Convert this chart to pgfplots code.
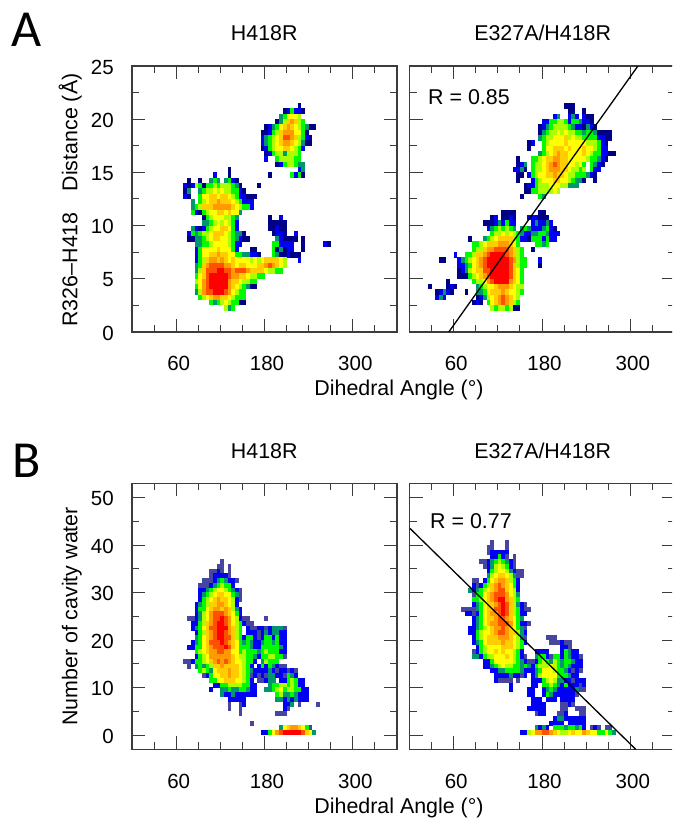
\documentclass[border=0pt]{standalone}
\usepackage{fontspec}
\setmainfont{Liberation Sans}
\newfontfamily\bigletter{Carlito}
\usepackage{pgfplots}
\pgfplotsset{compat=1.18}
\makeatletter
\newcount\cx
\def\C{}
\def\Y#1{\def\cy{#1}}
\def\R#1#2{\cx=#1\relax\advance\cx by 2\relax
 \@for\v:=#2\do{\xdef\C{\C(\the\cx.5,\cy)[\v]}\advance\cx by 5\relax}}
\makeatother
\pgfdeclareplotmark{cellA}{\pgfpathrectangle{\pgfpoint{-1.9pt}{-2.72pt}}{\pgfpoint{3.8pt}{5.44pt}}\pgfusepathqfill}
\pgfdeclareplotmark{cellB}{\pgfpathrectangle{\pgfpoint{-1.9pt}{-2.43pt}}{\pgfpoint{3.8pt}{4.86pt}}\pgfusepathqfill}
% H418R, distance
\Y{21.25}\R{225}{0}
\Y{20.75}\R{205}{0,1,3,1,1,0}
\Y{20.25}\R{200}{2,3,5,5,5,4}
\Y{19.75}\R{195}{0,2,4,6,7,6,4,3}
\Y{19.25}\R{180}{0,1,2,3,5,6,7,6,5,4,3,2,0,0}
\Y{18.75}\R{175}{0,0,1,3,4,6,7,7,7,5,5,3,0}
\Y{18.25}\R{175}{1,2,3,4,5,6,8,8,7,6,4,3,1,0}
\Y{17.75}\R{175}{1,2,3,4,5,6,7,7,6,5,4,2,0,0}
\Y{17.25}\R{175}{0,1,3,4,5,5,6,6,5,4,3,1}
\Y{16.75}\R{180}{0,1,3,4,4,2,4,4,4,3}
\Y{16.25}\R{180}{1}\R{195}{3,4,4,4,4,3,3}
\Y{15.75}\R{195}{0,1,3,4,4,3,2,2}
\Y{15.25}\R{130}{0}\R{225}{1,2}
\Y{14.75}\R{110}{1}\R{130}{0}\R{185}{0}\R{215}{3,1,3,0}
\Y{14.25}\R{75}{0}\R{90}{0}\R{105}{2,3,2}\R{125}{2,3,1,0}
\Y{13.75}\R{70}{1,0,1,4,3,0,3,3,4,3,4,4,4,3,2,0}\R{170}{0}
\Y{13.25}\R{70}{0,2}\R{90}{2,3,4,4,5,4,5,4,4,3,3,1,0}
\Y{12.75}\R{70}{1,0}\R{90}{3,5,5,6,6,5,6,6,5,4,3,1,1,0,0,0}
\Y{12.25}\R{80}{2}\R{90}{3,4,5,6,6,7,6,6,6,5,4,3,1,1,1}
\Y{11.75}\R{80}{2,3,4,6,6,6,7,7,7,7,7,6,5,4,3,3,1}
\Y{11.25}\R{80}{3,1,0,3,4,5,5,6,6,5,6,5,5,2}
\Y{10.75}\R{95}{0,3,4,5,5,5,4,4,3,2}\R{185}{0}\R{200}{1}
\Y{10.25}\R{95}{2,2,3,4,5,4,5,4,3,1}\R{185}{0,0,0,0,0}
\Y{9.75}\R{80}{2,1,0,1,3,4,5,5,6,6,5,3,1}\R{185}{0,0,1,0,0}
\Y{9.25}\R{75}{1,3,2,3,4,4,5,6,6,6,5,4,3,2,2,0}\R{190}{0,1,1,0}\R{220}{1}
\Y{8.75}\R{75}{0,0,2,2,3,4,5,6,6,5,5,4,3,2,1,0,0}\R{195}{2,1,0,0,0,0}\R{230}{0}
\Y{8.25}\R{85}{2,2,3,3,4,5,5,5,5,4,3,1,1}\R{190}{3,3,1,1,1,1}\R{230}{0}\R{260}{1,0}
\Y{7.75}\R{85}{1,3,5,5,5,5,6,5,5,5,3,1}\R{160}{0,0}\R{190}{3,0,2,0,1,1}\R{230}{0}
\Y{7.25}\R{85}{1,3,5,5,6,6,7,6,6,5,5,3,3,2,2,1,1,0}\R{190}{3,2,0,0,1,0,0,0}
\Y{6.75}\R{85}{1,3,4,6,7,7,6,7,6,5,6,5,5,5,5,4,5,4,5,6,6,6,6,5,4}\R{225}{1}
\Y{6.25}\R{85}{2,3,6,7,8,8,8,8,7,7,6,5,6,6,5,5,5,6,6,7,8,7,6,5,4}
\Y{5.75}\R{85}{2,4,6,8,8,8,9,9,8,8,7,8,8,8,7,6,6,6,6,5,4,4,3,3}
\Y{5.25}\R{85}{3,5,6,8,9,9,9,9,9,8,7,7,6,6,5,4,4,3,3}
\Y{4.75}\R{85}{4,5,7,8,9,9,9,9,9,7,6,6,5,4,4,3,3}
\Y{4.25}\R{85}{3,5,7,8,9,9,9,9,9,7,6,5,4,3,2,0,0}
\Y{3.75}\R{85}{2,4,7,8,8,9,9,9,8,7,5,4,3,3}
\Y{3.25}\R{90}{3,4,5,6,7,7,6,6,5,4,3,3,3}
\Y{2.75}\R{105}{3,2,3,4,5,4,3,3,0,0}
\Y{2.25}\R{125}{4,2,3}
\let\cellsAL\C \def\C{}
% E327A/H418R, distance
\Y{21.25}\R{210}{0,0,0}
\Y{20.75}\R{215}{0,0}\R{235}{0}
\Y{20.25}\R{195}{1,2}\R{215}{1,2,1}\R{235}{1,0,0}
\Y{19.75}\R{180}{1,1,3,3,4,4,3,1,3,3,2,1,1,0}
\Y{19.25}\R{175}{0,1,2,3,4,4,4,4,3,2,1,1,0,2,1,0}
\Y{18.75}\R{175}{0,2,3,4,4,5,4,5,4,4,3,3,2,3,3,2,0,0,0,0}
\Y{18.25}\R{175}{2,3,4,4,5,5,5,6,4,5,4,4,3,3,3,3,1,1,0,0}
\Y{17.75}\R{160}{0,1}\R{180}{3,4,5,5,5,5,6,5,5,5,5,5,4,4,4,3,1,0}
\Y{17.25}\R{160}{0}\R{180}{3,5,5,6,6,6,5,6,5,5,5,6,5,5,4,3,1,1}
\Y{16.75}\R{175}{2,3,4,5,6,7,6,6,5,5,5,5,6,5,4,3,3,1,1,0,0}
\Y{16.25}\R{145}{0}\R{165}{3,3,4,5,6,6,7,7,6,6,5,5,5,5,5,4,3,3,2,1,0}
\Y{15.75}\R{145}{0,1,2}\R{165}{3,4,4,5,6,7,8,7,6,6,5,5,4,5,3}\R{245}{3,2,1,0}
\Y{15.25}\R{140}{1,1,2,0}\R{165}{3,4,4,5,6,7,7,7,6,6,5,4,4,3,4}\R{245}{3,1,1}
\Y{14.75}\R{145}{0,0}\R{160}{1,3,4,5,5,6,6,7,6,6,5,4,4,3,3,3,2,1,0}
\Y{14.25}\R{145}{0}\R{165}{1,3,4,5,5,5,6,6,5,5,4,3,2,2,0}\R{250}{0}
\Y{13.75}\R{155}{0,1,1,3,4,4,4,5,5,5,4,4,2,2,2}
\Y{13.25}\R{155}{0,0,3,3,4,4,4,4,5,4}
\Y{12.75}\R{150}{0}\R{175}{3,2}
\Y{11.25}\R{125}{0,0,0,0}\R{175}{0,0}
\Y{10.75}\R{110}{0,1}\R{125}{0,0,1,0}\R{160}{1,1,1,0,0,0}
\Y{10.25}\R{100}{0,0,0,1,2,1,3,1,1}\R{165}{1,2,1,1,2,1}
\Y{9.75}\R{105}{1,2,3,4,3,4,3,2}\R{150}{2,3,2,1,1,1,2,3,1,0}
\Y{9.25}\R{110}{3,4,4,5,4,5,4,3,2,1,1,2,2,3,3,2,1,1,1}
\Y{8.75}\R{80}{0}\R{100}{2,3,4,5,6,6,6,6,4,3,1,1,0,3,3,3,1,3,1,1}
\Y{8.25}\R{85}{3,3,4,5,6,6,6,7,7,7,6,5,3}\R{170}{3,3,2,3}
\Y{7.75}\R{85}{3,4,4,6,7,7,8,8,8,8,7,6,4,3}\R{165}{0}
\Y{7.25}\R{60}{1}\R{75}{3,3,4,6,6,7,8,9,9,9,9,8,7,6,4,3}
\Y{6.75}\R{40}{0,0}\R{65}{1,2,3,4,5,6,7,8,9,9,9,9,9,9,8,7,4,3,3}\R{175}{1}
\Y{6.25}\R{65}{1,1,2,3,5,6,7,8,9,9,9,9,9,9,8,6,4,3,3}\R{175}{0}
\Y{5.75}\R{65}{0,1,2,4,5,6,6,8,8,9,9,9,9,9,8,6,5,3}
\Y{5.25}\R{65}{0,0,0,3,4,5,6,7,8,9,9,9,9,9,8,6,5,3}
\Y{4.75}\R{50}{0}\R{85}{3,4,4,5,7,8,9,9,9,9,7,6,5,3}
\Y{4.25}\R{25}{0}\R{50}{0,1,0}\R{90}{2,3,4,5,5,6,7,7,7,6,5,4,4}
\Y{3.75}\R{35}{0,1,2,1,0}\R{75}{0}\R{90}{2,2,3,5,6,6,6,7,6,5,5,4,3}
\Y{3.25}\R{35}{1,2,1}\R{90}{0,1,2,4,5,6,7,8,7,6,5,4}
\Y{2.75}\R{85}{0,1,0}\R{105}{3,5,6,7,8,7,6,4,3}
\Y{2.25}\R{110}{4,3,4,4,3,4,0,0}
\let\cellsAR\C \def\C{}
% H418R, water
\Y{36.5}\R{120}{0}
\Y{35.5}\R{115}{0,0}\R{130}{0}
\Y{34.5}\R{105}{0,0,1,0}\R{130}{0}
\Y{33.5}\R{105}{0,1,1,1,1,0}
\Y{32.5}\R{95}{0,0,0,1,2,3,2,1,1,0}
\Y{31.5}\R{90}{0,0,0,1,2,3,4,3,3,1}
\Y{30.5}\R{90}{1,1,2,3,4,5,5,4,3,2,1,0}
\Y{29.5}\R{90}{1,2,3,4,5,6,6,5,5,3,2,0}
\Y{28.5}\R{90}{1,3,4,5,6,7,6,6,5,4,1,0}
\Y{27.5}\R{85}{1,2,3,4,6,6,7,7,6,5,4,1}
\Y{26.5}\R{85}{1,3,3,5,6,7,7,6,7,6,4,2,1}
\Y{25.5}\R{85}{1,2,4,5,7,8,8,8,7,6,5,3,1}
\Y{24.5}\R{75}{0,0,1,2,4,5,7,8,8,9,8,7,5,4,1,0,0}\R{180}{0}
\Y{23.5}\R{80}{1,1,3,4,6,7,8,9,9,8,7,5,4,3,1,0,0}
\Y{22.5}\R{80}{1,2,3,5,6,8,8,9,9,9,7,6,4,3}\R{155}{1,0,0,1,1,0,1,2,2,2,0}
\Y{21.5}\R{85}{1,3,4,6,7,8,9,9,8,7,6,4,3}\R{155}{1,1,1,0,1,2,1,2,2,1,1}
\Y{20.5}\R{85}{2,3,5,6,7,8,9,9,8,8,6,4,3,1,3,3,1,0,1,3,3,1,3,1,1}
\Y{19.5}\R{80}{1,2,3,5,6,8,8,8,9,8,7,6,5,3,2,3,2,1,1,2,3,3,2,3,1,1}
\Y{18.5}\R{75}{1,1,3,3,5,6,7,8,8,8,9,8,6,5,3,3,3,2,1,1,3,3,3,3,3,2,1}
\Y{17.5}\R{85}{3,4,5,6,7,7,8,8,7,7,5,5,3,4,3,3,3,2,3,4,3,3,3,1,1}
\Y{16.5}\R{85}{1,3,4,5,7,7,7,7,7,7,6,5,4,4,3,3,2,1,3,3,4,4,3,3,0}
\Y{15.5}\R{70}{0,0,1,3,3,4,5,6,7,8,7,8,7,6,5,5,4,3,3,1}\R{175}{2,4,3,3,3}
\Y{14.5}\R{75}{0}\R{85}{2,3,2,3,4,6,6,7,6,6,6,6,5,4,3,1}\R{170}{1,3,1,3,2,1,0,0}
\Y{13.5}\R{90}{3,4,3,2,5,6,6,6,7,6,6,5,4,3,2,1,1,1,1,2,1,0,1,1,0,1,0}
\Y{12.5}\R{95}{0,1,3,5,5,6,6,7,6,6,5,4,3,0,1,0,1,0,2,2,1,1,0,3,2,1}
\Y{11.5}\R{105}{3,3,5,5,6,6,6,5,5,4,3,1}\R{170}{0}\R{175}{0,1,2,2}\R{200}{1,1,3,4,3,1,1}
\Y{10.5}\R{110}{1,1,3,3,4,4,4,4,3,3,1,1}\R{185}{2,3,3,4,4,3,4,3,1,1}
\Y{9.5}\R{105}{1}\R{120}{2,2,3,2,2,3,3,2,1,1}\R{180}{2,2,3,4,5,3,4,4,3,3,1,1}
\Y{8.5}\R{120}{2,1,1,2,1,1,1,1,1,1}\R{195}{3,4,2,2,3,2,1,1,1}
\Y{7.5}\R{130}{1,1,1,1,1}\R{195}{2,2,1,2,1,2,1,1,1}
\Y{6.5}\R{130}{0}\R{145}{0,1}\R{205}{1,1,2}\R{225}{0}\R{250}{0}
\Y{5.5}\R{130}{0}\R{145}{0}\R{205}{1,0}
\Y{4.5}\R{145}{0}\R{195}{0,0,0}
\Y{2.5}\R{160}{0}
\Y{1.5}\R{200}{2,5,6,7,7,6,5,3,0}
\Y{0.5}\R{175}{1,1,3,5,7,8,9,9,9,9,9,8,6,5,2}
\let\cellsBL\C \def\C{}
% E327A/H418R, water
\Y{40.5}\R{110}{0}\R{130}{0}
\Y{39.5}\R{105}{0,0}\R{130}{0}
\Y{38.5}\R{105}{0,1,1,1,1,1}
\Y{37.5}\R{110}{1,1,3,1,0}\R{140}{0}
\Y{36.5}\R{95}{0,0,1,2,3,4,3,2,1,0}
\Y{35.5}\R{100}{0,1,2,4,5,4,3,1,0}
\Y{34.5}\R{105}{1,3,4,5,5,4,2,1,0,0}
\Y{33.5}\R{105}{2,4,5,6,6,5,4,2,0,0}
\Y{32.5}\R{85}{0,0}\R{100}{1,3,5,6,7,7,6,4,3,1}
\Y{31.5}\R{85}{1,0,1,3,4,6,7,8,7,6,5,3,1}
\Y{30.5}\R{80}{2,1,2,3,4,5,6,7,8,8,6,5,4,1}
\Y{29.5}\R{85}{0,3,3,5,6,7,8,8,8,7,5,4,2}
\Y{28.5}\R{85}{3,3,4,5,6,7,8,9,9,7,6,4,3}
\Y{27.5}\R{85}{1,2,3,5,6,6,7,8,9,8,6,4,2,1,0}
\Y{26.5}\R{70}{0,0,0,0,2,3,5,6,6,8,8,9,8,6,4,3,1,0,0}
\Y{25.5}\R{75}{1,1,0,1,3,5,6,7,7,8,9,8,6,4,3,1,1}
\Y{24.5}\R{85}{1,2,3,5,6,6,7,8,8,7,6,5,3,2}
\Y{23.5}\R{85}{1,2,3,5,6,7,7,8,8,8,7,5,3,1,1,0}
\Y{22.5}\R{80}{1,1,2,3,4,5,6,7,7,8,7,6,5,3,2,0}
\Y{21.5}\R{80}{1,1,3,4,5,5,6,7,8,8,7,6,6,4,2,1}
\Y{20.5}\R{85}{1,3,4,5,6,6,6,7,7,7,6,5,4,2,0}\R{185}{0,0,0}
\Y{19.5}\R{85}{1,2,3,5,6,6,6,6,7,6,6,5,4,3,1}\R{190}{0,0,0,1,0,0}
\Y{18.5}\R{90}{1,3,4,5,5,5,5,6,6,6,5,4,3}\R{205}{1,1,0}
\Y{17.5}\R{85}{0,1,3,4,5,5,6,5,6,5,5,4,3,1}\R{170}{1,1,1,1}\R{205}{1,3,2,1,1}
\Y{16.5}\R{85}{2,2,1,3,4,4,5,5,5,6,5,4,3,1,0}\R{170}{2,3,3,1,0,3,3,1,3,2,1,1,0}
\Y{15.5}\R{100}{1,1,3,5,5,5,5,5,4,3,2,1,0,0,1,3,4,3,2,4,3,2,3,3,2,1,1}
\Y{14.5}\R{100}{1,1,2,3,4,5,4,4,3,3,2,3,2,1,3,4,4,4,5,4,3,2,3,2,1,1,1}
\Y{13.5}\R{110}{1,1,2,2,3,3,3,3,2,1,1,1,2,3,5,5,5,4,3,3,2,1,0,1,0}
\Y{12.5}\R{115}{1,1,1,1,2,1,1,0,1}\R{165}{1,2,4,5,5,5,5,3,3,3,2,1,1}
\Y{11.5}\R{115}{1,0,0,0,0}\R{145}{0}\R{165}{1,1,1,3,4,5,4,2,2,1,1,0,1,1,1}
\Y{10.5}\R{135}{1}\R{165}{1,1}\R{180}{3,3,4,3,2,1,3,1,1,1,0,1}
\Y{9.5}\R{135}{1}\R{160}{1,1}\R{180}{1,2,3,2,1,1,1,1,1,2,0,0}
\Y{8.5}\R{160}{1,1}\R{180}{1,3,2,1,1,1,1,1,1,0}
\Y{7.5}\R{165}{1,1,1}\R{185}{1,1,1}\R{205}{1,1,1,1}
\Y{6.5}\R{165}{1,1,1,1}\R{205}{0,0,1,0}
\Y{5.5}\R{160}{1,1,1,1,1}\R{205}{0,0}\R{225}{0,0,0}
\Y{4.5}\R{170}{0,1,1}\R{200}{0,0,1}\R{230}{0,0}
\Y{3.5}\R{195}{1,2,2,1,1,1,1,1,1}
\Y{2.5}\R{190}{1,1,1,1}\R{215}{1,1,1,1,1}
\Y{1.5}\R{170}{2,1,2,1}\R{195}{3,3,3,2,3,3,2,3,1}\R{245}{0,1,0}\R{265}{0,0}
\Y{0.5}\R{150}{1,1,4,5,7,7,8,8,7,6,5,4,4,5,6,5,5,7,6,5,5,3,3,5,3,2}
\let\cellsBR\C \def\C{}

\definecolor{axgray}{RGB}{60,60,60}
\pgfplotsset{
  colormap={mapA}{rgb255=(0,0,135) rgb255=(0,0,245) rgb255=(0,150,110) rgb255=(0,250,0) rgb255=(170,255,0) rgb255=(255,255,0) rgb255=(255,205,0) rgb255=(255,155,0) rgb255=(255,80,0) rgb255=(255,0,0)},
  colormap={mapB}{rgb255=(70,70,160) rgb255=(0,0,245) rgb255=(0,150,110) rgb255=(0,250,0) rgb255=(170,255,0) rgb255=(255,255,0) rgb255=(255,205,0) rgb255=(255,155,0) rgb255=(255,80,0) rgb255=(255,0,0)},
  panel/.style={
    anchor=south west, scale only axis, width=265pt, height=266pt,
    xmin=0, xmax=360, clip mode=individual,
    xtick={60,180,300}, minor xtick={30,90,120,150,210,240,270,330},
    tick align=inside, major tick length=13pt, minor tick length=7pt,
    tick style={color=axgray,line width=1.0pt},
    minor tick style={color=axgray,line width=1.0pt},
    axis line style={color=axgray,line width=1.4pt},
    /pgf/number format/assume math mode=true,
    tick label style={font=\fontsize{20.5}{20.5}\selectfont},
    xticklabel style={anchor=base, yshift=-38.8pt, xshift=2.5pt},
    yticklabel style={anchor=east, inner xsep=0pt, xshift=-18pt, yshift=-1pt},
    point meta min=0, point meta max=9,
  },
  paneA/.style={panel, ymin=0, ymax=25, ytick={0,5,10,15,20,25},
    minor ytick={2.5,7.5,12.5,17.5,22.5}, colormap name=mapA},
  paneB/.style={panel, ymin=-3, ymax=53, ytick={0,10,20,30,40,50},
    minor ytick={5,15,25,35,45}, colormap name=mapB},
  heatA/.style={scatter, only marks, scatter src=explicit, mark=cellA},
  heatB/.style={scatter, only marks, scatter src=explicit, mark=cellB},
  fitline/.style={black, line width=1.3pt, no markers},
}
\begin{document}
\begin{tikzpicture}
\path[use as bounding box] (0pt,0pt) rectangle (672pt,819pt);
\clip (0pt,0pt) rectangle (672pt,819pt);
\begin{axis}[paneA, at={(132pt,487pt)}]
\edef\tmp{\noexpand\addplot[heatA] coordinates {\cellsAL};}\tmp
\end{axis}
\begin{axis}[paneA, at={(409.5pt,487pt)}, yticklabels={}]
\edef\tmp{\noexpand\addplot[heatA] coordinates {\cellsAR};}\tmp
\addplot[fitline] coordinates {(53.4,0) (310.3,25)};
\end{axis}
\begin{axis}[paneB, at={(132pt,69.7pt)}]
\edef\tmp{\noexpand\addplot[heatB] coordinates {\cellsBL};}\tmp
\end{axis}
\begin{axis}[paneB, at={(409.5pt,69.7pt)}, yticklabels={}]
\edef\tmp{\noexpand\addplot[heatB] coordinates {\cellsBR};}\tmp
\addplot[fitline] coordinates {(0,43.6) (307.3,-3)};
\end{axis}
\def\lab{\fontsize{21.4}{21.4}\selectfont}
\node[anchor=base,font=\lab] at (264.3pt,778pt) {H418R};
\node[anchor=base,font=\lab] at (542.7pt,778pt) {E327A/H418R};
\node[anchor=base,font=\lab] at (264.3pt,360.7pt) {H418R};
\node[anchor=base,font=\lab] at (542.7pt,360.7pt) {E327A/H418R};
\node[anchor=base,font=\lab] at (399pt,423.3pt) {Dihedral Angle (°)};
\node[anchor=base,font=\lab] at (399pt,5.7pt) {Dihedral Angle (°)};
\node[anchor=base west,font=\lab,inner sep=0pt] at (428pt,714pt) {R = 0.85};
\node[anchor=base west,font=\lab,inner sep=0pt] at (430pt,290pt) {R = 0.77};
\node[anchor=base,font=\lab,rotate=90] at (77.3pt,619pt) {R326–H418\hspace{21pt}Distance (Å)};
\node[anchor=base,font=\lab,rotate=90] at (77.3pt,202.5pt) {Number of cavity water};
\node[anchor=base west,inner sep=0pt,font=\bigletter\fontsize{52}{52}\selectfont] at (11pt,772.3pt) {A};
\node[anchor=base west,inner sep=0pt,font=\bigletter\fontsize{52}{52}\selectfont] at (12pt,341pt) {B};
\end{tikzpicture}
\end{document}
